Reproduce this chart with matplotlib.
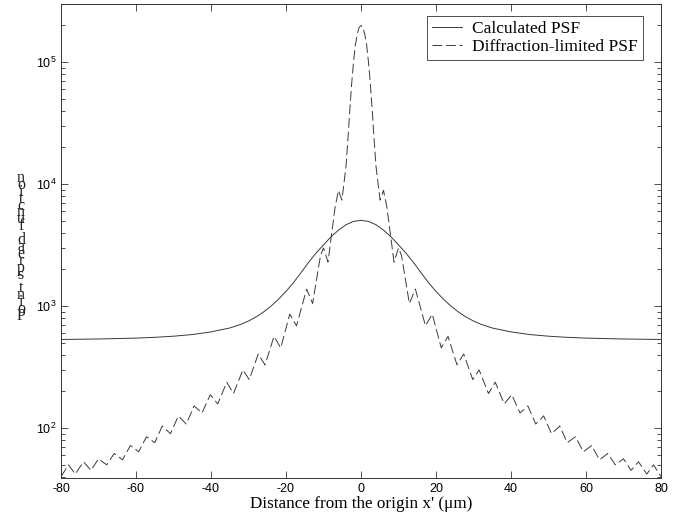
import numpy as np
import matplotlib
matplotlib.use("Agg")
import matplotlib.pyplot as plt
from matplotlib.ticker import LogLocator, FixedLocator

plt.rcParams["axes.unicode_minus"] = False

# ---- data (x >= 0 half; the curves are symmetric) ----
dl_x_half = [0.0, 0.5, 1.0, 1.5, 2.0, 2.5, 3.0, 3.5, 4.0, 4.6, 5.1, 6.0, 6.9,
             8.8, 10.0, 10.8, 12.9, 14.5, 17.2, 19.0, 21.4, 23.2, 25.6, 27.4,
             29.8, 31.5, 34.0, 35.8, 38.2, 40.2, 42.4, 44.5, 46.6, 48.7, 50.8,
             53.0, 55.0, 57.2, 59.3, 61.5, 63.6, 65.8, 67.8, 70.0, 72.0, 74.0,
             76.2, 78.0, 80.0]
dl_y_half = [200000, 192000, 170000, 138000, 100000, 66000, 40000, 23000, 14000,
             9800, 7400, 8900, 6500, 2300, 3000, 2600, 1050, 1380, 690, 860,
             455, 565, 330, 405, 250, 300, 192, 238, 158, 188, 133, 152, 108,
             126, 90, 104, 76, 85, 64, 72, 55, 62, 50, 56, 45, 53, 42, 50, 40]

calc_x_half = [0, 2, 4, 6, 8, 10, 12, 14, 16, 18, 20, 22, 24, 26, 28, 30, 32,
               35, 40, 45, 50, 55, 60, 70, 80]
calc_y_half = [5050, 4950, 4650, 4200, 3700, 3180, 2720, 2280, 1880, 1560, 1320,
               1140, 1000, 895, 815, 755, 710, 662, 615, 585, 567, 555, 547, 538, 533]

x_ticks = [-80, -60, -40, -20, 0, 20, 40, 60, 80]
legend_labels = ["Calculated PSF", "Diffraction-limited PSF"]
x_label = "Distance from the origin x' (\u03bcm)"
y_label = "Point spread function"


def mirror(xh, yh):
    xh = np.asarray(xh, float)
    yh = np.asarray(yh, float)
    x = np.concatenate([-xh[:0:-1], xh])
    y = np.concatenate([yh[:0:-1], yh])
    return x, y


dl_x, dl_y = mirror(dl_x_half, dl_y_half)
calc_x, calc_y = mirror(calc_x_half, calc_y_half)

fig = plt.figure(figsize=(6.75, 5.18), dpi=100)
W, H = 675, 518
ax = fig.add_axes([61 / W, 40 / H, 600 / W, 474 / H])

line_col = "#3a3a3a"
ax.plot(calc_x, calc_y, color=line_col, lw=0.7, label=legend_labels[0])
ax.plot(dl_x, dl_y, color=line_col, lw=0.7, dashes=(10, 4), label=legend_labels[1])

ax.set_yscale("log")
ax.set_xlim(-80, 80)
ax.set_ylim(39, 3.0e5)
ax.xaxis.set_major_locator(FixedLocator(x_ticks))
ax.yaxis.set_major_locator(LogLocator(base=10, numticks=10))
ax.yaxis.set_minor_locator(LogLocator(base=10, subs=np.arange(2, 10), numticks=20))

ax.tick_params(which="both", direction="in", top=True, right=True,
               labelsize=9, width=0.6, color="#333333")
ax.tick_params(which="major", length=5)
ax.tick_params(which="minor", length=3)
for lab in ax.get_xticklabels() + ax.get_yticklabels():
    lab.set_fontfamily("Liberation Sans")
for s in ax.spines.values():
    s.set_linewidth(0.7)
    s.set_color("#333333")

ax.set_xlabel(x_label, fontfamily="Liberation Serif", fontsize=12.3, labelpad=1)

# garbled vertical y label, characters stacked from bottom (P) to top
chars = list(y_label)
y_bottom, y_top = 316, 178
n = len(chars)
for i, ch in enumerate(chars):
    yy = y_bottom - i * (y_bottom - y_top) / (n - 1)
    fig.text(21 / W, 1 - yy / H, ch, fontfamily="Liberation Serif", fontsize=11.5,
             ha="center", va="center", color="#222222")

leg = ax.legend(loc="upper right", bbox_to_anchor=(0.97, 0.975), borderaxespad=0,
                prop={"family": "Liberation Serif", "size": 12.5},
                fancybox=False, framealpha=1, edgecolor="#333333",
                handlelength=1.7, handletextpad=0.6, borderpad=0.3,
                labelspacing=0.1)
leg.get_frame().set_linewidth(0.6)

fig.savefig("out.png", dpi=100)
